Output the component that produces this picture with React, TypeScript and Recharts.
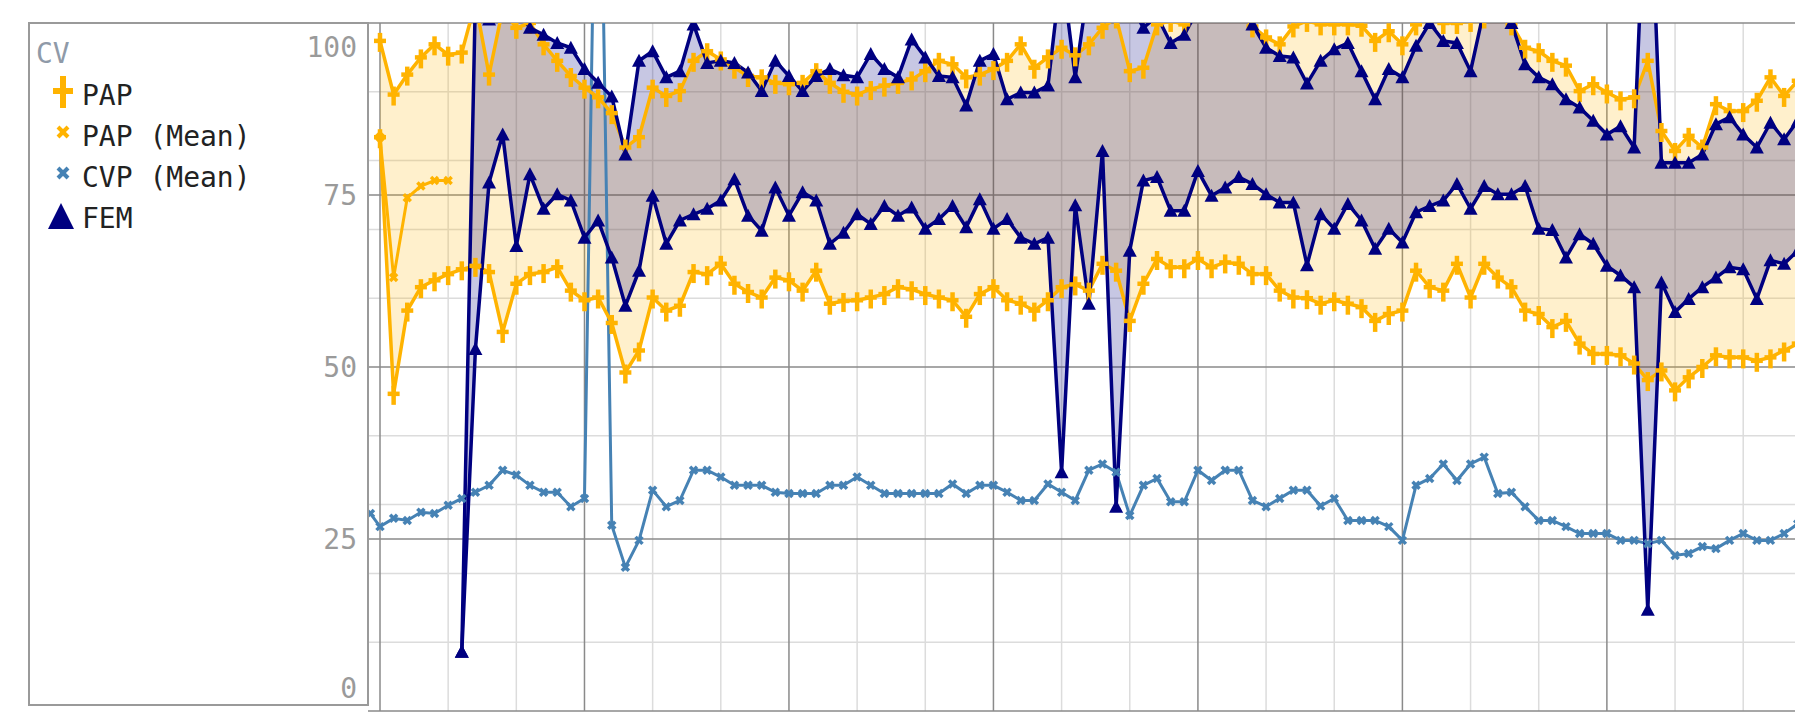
import { Area, CartesianGrid, ComposedChart, Line, XAxis, YAxis } from 'recharts';

// one sample per index, the chart is a long strip of monitor readings
const PAP_SYS = [
  97.4, 89.6, 92.5, 95.0, 96.9, 95.4, 95.7, 103, 92.5, 102,
  99.3, 100, 96.9, 94.5, 92.3, 90.6, 89.2, 86.9, 81.9, 83.4,
  90.6, 89.4, 90.1, 94.5, 95.9, 94.7, 93.5, 92.3, 92.1, 91.3,
  91.1, 91.3, 93.0, 91.3, 90.0, 89.6, 90.4, 90.9, 91.3, 91.8,
  93.0, 94.5, 94.0, 92.1, 92.5, 93.3, 94.5, 96.9, 93.5, 95.0,
  96.4, 95.3, 96.9, 99.3, 100.8, 93.0, 93.5, 99.8, 100.3, 99.8,
  102, 102.5, 103, 102, 99.5, 97.9, 96.9, 99.5, 100.3, 99.8,
  99.8, 99.8, 99.6, 97.4, 98.8, 96.9, 99.8, 100.8, 100, 100,
  100.3, 100.8, 102, 99.8, 96.4, 95.9, 94.5, 93.8, 90.1, 91.1,
  89.9, 88.9, 89.2, 94.5, 84.3, 81.4, 83.6, 81.9, 88.2, 87.2,
  87.2, 88.7, 92.1, 89.4, 91.6, 90.5,
];

const PAP_DIA = [
  83.4, 46.1, 58.2, 61.6, 62.6, 63.5, 64.2, 64.7, 63.8, 55.1,
  62.1, 63.5, 63.8, 64.5, 61.1, 59.7, 60.1, 56.4, 49.2, 52.4,
  60.1, 58.2, 58.9, 63.8, 63.5, 65.0, 62.1, 60.9, 60.1, 63.0,
  62.6, 61.1, 64.0, 59.2, 59.6, 59.7, 60.1, 60.6, 61.6, 61.3,
  60.6, 60.1, 59.7, 57.3, 60.6, 61.6, 59.7, 59.2, 58.2, 59.7,
  61.6, 62.0, 61.1, 65.0, 64.0, 56.7, 62.1, 65.7, 64.5, 64.5,
  65.7, 64.5, 65.2, 65.0, 63.5, 63.5, 61.1, 60.1, 60.0, 59.2,
  59.7, 59.2, 58.7, 56.7, 57.7, 58.2, 64.0, 61.6, 61.1, 65.0,
  60.1, 65.0, 63.0, 61.6, 58.2, 57.7, 55.8, 56.7, 53.4, 51.9,
  51.9, 51.7, 50.5, 48.1, 49.5, 46.6, 48.5, 50.0, 51.7, 51.4,
  51.4, 50.9, 51.4, 52.4, 53.4, 52.5,
];

// mean pressure only recorded for the first few samples
const PAP_MEAN = [83.4, 63.0, 74.6, 76.3, 77.1, 77.1];

const CVP_MEAN = [
  26.8, 28.0, 27.7, 28.9, 28.7, 29.9, 30.9, 31.8, 32.8, 35.0,
  34.3, 32.8, 31.8, 31.8, 29.7, 30.9, 150, 27.0, 20.9, 24.8,
  32.1, 29.7, 30.6, 35.0, 35.0, 34.0, 32.8, 32.8, 32.8, 31.8,
  31.6, 31.6, 31.6, 32.8, 32.8, 34.0, 32.8, 31.6, 31.6, 31.6,
  31.6, 31.6, 33.0, 31.6, 32.8, 32.8, 31.8, 30.6, 30.6, 33.0,
  31.8, 30.6, 35.0, 35.9, 34.7, 28.4, 32.8, 33.8, 30.4, 30.4,
  35.0, 33.5, 35.0, 35.0, 30.6, 29.7, 30.9, 32.1, 32.1, 29.8,
  30.9, 27.7, 27.7, 27.7, 26.8, 24.8, 32.8, 33.8, 35.9, 33.5,
  35.9, 36.9, 31.6, 31.8, 29.7, 27.7, 27.7, 26.8, 25.8, 25.8,
  25.8, 24.8, 24.8, 24.3, 24.8, 22.6, 22.9, 23.9, 23.6, 24.8,
  25.8, 24.8, 24.8, 25.8, 27.2, 28.0,
];
const CVP_LEAD = { t: -0.7, value: 28.7 };

const FEM_SYS = [
  null, null, null, null, null, null, 8.6, 104, 100.5, 103,
  102, 99.3, 98.3, 97.1, 96.4, 93.3, 91.3, 89.3, 80.9, 94.5,
  95.9, 92.1, 93.0, 99.8, 94.2, 94.5, 94.2, 92.8, 90.1, 94.5,
  92.3, 90.1, 92.3, 93.3, 92.4, 92.1, 95.5, 93.3, 92.1, 97.6,
  95.0, 92.3, 92.1, 88.0, 94.5, 95.5, 88.9, 89.9, 89.9, 90.9,
  108, 92.1, 106, 104, 106, 103, 99.3, 101, 97.1, 98.3,
  102, 103, 104, 102, 99.8, 96.4, 95.2, 95.0, 91.2, 94.5,
  96.2, 97.1, 93.0, 88.9, 93.3, 92.1, 96.7, 100, 97.4, 97.1,
  93.0, 102, 104, 100, 94.0, 92.1, 91.1, 88.9, 87.7, 85.8,
  83.8, 85.0, 81.9, 130, 79.7, 79.7, 79.7, 80.9, 85.3, 86.3,
  83.8, 81.9, 85.5, 83.1, 85.8, 84.5,
];

const FEM_DIA = [
  null, null, null, null, null, null, 8.6, 52.6, 76.8, 83.8,
  67.6, 78.0, 73.0, 75.1, 74.2, 68.8, 71.3, 65.9, 58.9, 64.0,
  74.9, 67.9, 71.3, 72.2, 73.0, 74.2, 77.3, 72.0, 69.8, 76.1,
  72.0, 75.4, 74.2, 67.9, 69.5, 72.2, 70.8, 73.4, 72.0, 73.2,
  70.1, 71.5, 73.4, 70.3, 74.4, 70.1, 71.5, 68.8, 67.9, 68.8,
  34.7, 73.5, 59.2, 81.4, 29.7, 66.9, 77.1, 77.6, 72.7, 72.7,
  78.5, 74.9, 76.1, 77.6, 76.6, 75.1, 73.9, 73.9, 64.8, 72.2,
  70.1, 73.7, 71.3, 67.2, 70.1, 68.1, 72.5, 73.4, 74.2, 76.6,
  73.0, 76.3, 75.1, 75.1, 76.3, 70.1, 69.9, 65.9, 69.3, 67.9,
  64.7, 63.3, 61.6, 14.7, 62.3, 58.0, 59.9, 61.6, 63.0, 64.5,
  64.2, 59.9, 65.5, 65.0, 66.9, 66.0,
];

const Y_TICKS = [0, 25, 50, 75, 100];
const Y_MINOR = [10, 20, 30, 40, 60, 70, 80, 90];
const X_MAJOR = [0, 15, 30, 45, 60, 75, 90, 105];
const X_MINOR = [5, 10, 20, 25, 35, 40, 50, 55, 65, 70, 80, 85, 95, 100];

const LEGEND = [
  { name: 'PAP', symbol: 'plus', color: '#ffb300' },
  { name: 'PAP (Mean)', symbol: 'x', color: '#ffb300' },
  { name: 'CVP (Mean)', symbol: 'x', color: '#4682b4' },
  { name: 'FEM', symbol: 'triangle', color: '#000080' },
];

const ORANGE = '#ffb300';
const NAVY = '#000080';
const STEEL = '#4682b4';
const MONO = '"DejaVu Sans Mono", monospace';

const rows: any[] = PAP_SYS.map((sys, i) => {
  const dia = PAP_DIA[i];
  const fs = FEM_SYS[i];
  const fd = FEM_DIA[i];
  return {
    t: i,
    papSys: sys,
    papDia: dia,
    papBand: [dia, sys],
    papMean: PAP_MEAN[i] ?? null,
    cvp: CVP_MEAN[i] ?? null,
    femSys: fs,
    femDia: fd,
    femBand: fs != null && fd != null ? [fd, fs] : null,
  };
});
rows.unshift({
  t: CVP_LEAD.t,
  papSys: null,
  papDia: null,
  papBand: null,
  papMean: null,
  cvp: CVP_LEAD.value,
  femSys: null,
  femDia: null,
  femBand: null,
});

function PlusDot(props: any) {
  const { cx, cy, index } = props;
  if (cx == null || cy == null || Number.isNaN(cy)) return <g key={`pl${index}`} />;
  return (
    <g key={`pl${index}`} stroke={ORANGE} strokeWidth={4.5}>
      <line x1={cx} y1={cy - 8} x2={cx} y2={cy + 11} />
      <line x1={cx - 6} y1={cy} x2={cx + 6} y2={cy} />
    </g>
  );
}

function makeCross(color: string, r: number, w: number) {
  return (props: any) => {
    const { cx, cy, index } = props;
    if (cx == null || cy == null || Number.isNaN(cy)) return <g key={`x${index}`} />;
    return (
      <g key={`x${index}`} stroke={color} strokeWidth={w}>
        <line x1={cx - r} y1={cy - r} x2={cx + r} y2={cy + r} />
        <line x1={cx - r} y1={cy + r} x2={cx + r} y2={cy - r} />
      </g>
    );
  };
}

function TriDot(props: any) {
  const { cx, cy, index } = props;
  if (cx == null || cy == null || Number.isNaN(cy)) return <g key={`tr${index}`} />;
  return (
    <polygon
      key={`tr${index}`}
      points={`${cx - 7},${cy + 6} ${cx + 7},${cy + 6} ${cx},${cy - 7}`}
      fill={NAVY}
    />
  );
}

function YTick(props: any) {
  const { x, y, payload } = props;
  const v = payload.value;
  const shift = v === 100 ? 24 : v === 0 ? -23 : 0;
  return (
    <text x={x} y={y + shift} dy="0.36em" textAnchor="end" fill="#9a9a9a" fontSize={28} fontFamily={MONO}>
      {v}
    </text>
  );
}

function LegendBox() {
  return (
    <svg width={372} height={713} style={{ position: 'absolute', left: 0, top: 0, pointerEvents: 'none' }}>
      <rect x={29} y={23} width={339} height={682} fill="none" stroke="#9a9a9a" strokeWidth={2} />
      <text x={36} y={53} dy="0.36em" fill="#8f9aa8" fontSize={28} fontFamily={MONO}>
        CV
      </text>
      {LEGEND.map((item, k) => {
        const cy = 95 + k * 41;
        let mark = null;
        if (item.symbol === 'plus') {
          mark = (
            <g stroke={item.color} strokeWidth={6}>
              <line x1={63} y1={cy - 19} x2={63} y2={cy + 13} />
              <line x1={53} y1={cy - 4} x2={73} y2={cy - 4} />
            </g>
          );
        } else if (item.symbol === 'x') {
          mark = (
            <g stroke={item.color} strokeWidth={4}>
              <line x1={58} y1={cy - 9} x2={68} y2={cy + 1} />
              <line x1={58} y1={cy + 1} x2={68} y2={cy - 9} />
            </g>
          );
        } else {
          mark = <polygon points={`48,${cy + 11} 74,${cy + 11} 61,${cy - 15}`} fill={item.color} />;
        }
        return (
          <g key={item.name}>
            {mark}
            <text x={82} y={cy} dy="0.36em" fill="#222" fontSize={28} fontFamily={MONO} xmlSpace="preserve">
              {item.name}
            </text>
          </g>
        );
      })}
    </svg>
  );
}

const cvpDot = makeCross(STEEL, 3.5, 3.5);
const meanDot = makeCross(ORANGE, 3.5, 3.5);

export default function App() {
  return (
    <div style={{ position: 'fixed', left: 0, top: 0, width: 1795, height: 713, overflow: 'hidden', background: '#fff' }}>
      <ComposedChart width={1825} height={713} data={rows} margin={{ top: 23, right: 0, bottom: 2, left: 0 }}>
        <CartesianGrid stroke="#dcdcdc" strokeWidth={1.5} horizontalValues={Y_MINOR} verticalValues={X_MINOR} />
        <CartesianGrid stroke="#8a8a8a" strokeWidth={1.5} horizontalValues={Y_TICKS} verticalValues={X_MAJOR} />
        <XAxis type="number" dataKey="t" domain={[-0.88, 106]} allowDataOverflow hide />
        <YAxis
          type="number"
          domain={[0, 100]}
          ticks={Y_TICKS}
          interval={0}
          allowDataOverflow
          width={368}
          axisLine={false}
          tickLine={false}
          tickSize={0}
          tickMargin={11}
          tick={<YTick />}
        />
        <Area dataKey="papBand" fill={ORANGE} fillOpacity={0.2} stroke="none" isAnimationActive={false} />
        <Area dataKey="femBand" fill={NAVY} fillOpacity={0.22} stroke="none" isAnimationActive={false} />
        <Line dataKey="cvp" stroke={STEEL} strokeWidth={3} dot={cvpDot} isAnimationActive={false} />
        <Line dataKey="papMean" stroke={ORANGE} strokeWidth={3} dot={meanDot} isAnimationActive={false} />
        <Line dataKey="papSys" stroke={ORANGE} strokeWidth={3.5} dot={PlusDot} isAnimationActive={false} />
        <Line dataKey="papDia" stroke={ORANGE} strokeWidth={3.5} dot={PlusDot} isAnimationActive={false} />
        <Line dataKey="femSys" stroke={NAVY} strokeWidth={3.5} dot={TriDot} isAnimationActive={false} />
        <Line dataKey="femDia" stroke={NAVY} strokeWidth={3.5} dot={TriDot} isAnimationActive={false} />
      </ComposedChart>
      <LegendBox />
    </div>
  );
}
